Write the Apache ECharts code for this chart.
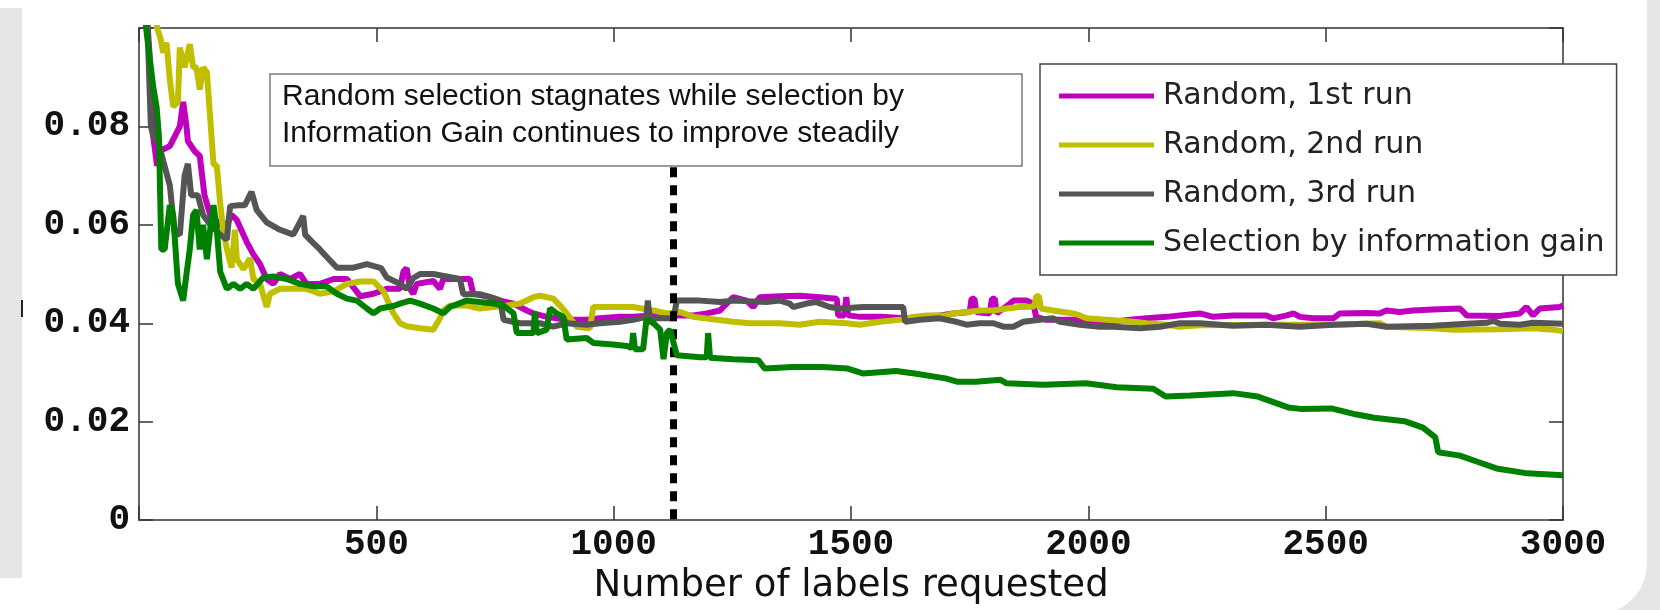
<!DOCTYPE html>
<html>
<head>
<meta charset="utf-8">
<title>Labels requested vs error</title>
<script src="https://cdn.jsdelivr.net/npm/echarts@6/dist/echarts.min.js"></script>
<style>
  html, body { margin: 0; padding: 0; background: #fff; }
  #container { width: 1660px; height: 610px; }
</style>
</head>
<body>
<div id="container"></div>
<script>
// values: [labels requested, error]
var run1 = [
    [8, 0.115], [22, 0.095], [30, 0.078], [38, 0.072], [44, 0.075], [65, 0.076], [86, 0.080], [93, 0.085],
    [100, 0.080], [103, 0.077], [117, 0.075], [128, 0.074], [138, 0.066], [150, 0.062], [171, 0.060], [185, 0.060],
    [195, 0.062], [206, 0.061], [227, 0.0565], [241, 0.054], [255, 0.052], [269, 0.049], [283, 0.048], [297, 0.050],
    [318, 0.049], [339, 0.050], [353, 0.048], [381, 0.048], [410, 0.049], [438, 0.049], [466, 0.0455], [494, 0.046],
    [522, 0.047], [550, 0.047], [557, 0.0505], [564, 0.0512], [571, 0.047], [578, 0.046], [585, 0.048], [620, 0.0486],
    [634, 0.047], [641, 0.049], [676, 0.049], [697, 0.049], [704, 0.046], [740, 0.0453], [761, 0.0446], [789, 0.044],
    [817, 0.0426], [831, 0.042], [859, 0.0413], [901, 0.0407], [943, 0.0407], [971, 0.041], [1013, 0.0413], [1041, 0.0413],
    [1084, 0.0416], [1112, 0.0413], [1140, 0.0416], [1168, 0.0416], [1196, 0.042], [1224, 0.0426], [1238, 0.044], [1252, 0.0453],
    [1280, 0.0446], [1294, 0.0433], [1308, 0.0453], [1350, 0.0455], [1392, 0.0456], [1434, 0.0453], [1470, 0.045], [1473, 0.0416],
    [1486, 0.0416], [1490, 0.0453], [1494, 0.0416], [1519, 0.0413], [1561, 0.0413], [1617, 0.041], [1645, 0.0413], [1687, 0.0416],
    [1715, 0.042], [1750, 0.0423], [1754, 0.045], [1760, 0.045], [1764, 0.0423], [1792, 0.042], [1797, 0.045], [1803, 0.045],
    [1807, 0.042], [1835, 0.044], [1842, 0.0446], [1870, 0.0446], [1884, 0.044], [1890, 0.0413], [1912, 0.0407], [1982, 0.0407],
    [2053, 0.0403], [2088, 0.0407], [2123, 0.041], [2165, 0.0413], [2193, 0.0416], [2235, 0.042], [2263, 0.0413], [2305, 0.0416],
    [2375, 0.0416], [2389, 0.041], [2418, 0.0416], [2432, 0.042], [2446, 0.0413], [2474, 0.041], [2516, 0.041], [2530, 0.042],
    [2586, 0.0421], [2614, 0.042], [2628, 0.0426], [2656, 0.0423], [2684, 0.0426], [2726, 0.0428], [2783, 0.043], [2797, 0.0416],
    [2867, 0.0415], [2909, 0.042], [2923, 0.0433], [2937, 0.0416], [2951, 0.043], [2993, 0.0433], [3000, 0.0436]
]
var run2 = [
    [25, 0.115], [38, 0.100], [45, 0.098], [51, 0.095], [58, 0.097], [65, 0.0895], [72, 0.084], [82, 0.085],
    [86, 0.096], [96, 0.092], [107, 0.0967], [114, 0.092], [121, 0.092], [128, 0.0875], [135, 0.092], [143, 0.091],
    [150, 0.0816], [157, 0.0723], [164, 0.072], [171, 0.0644], [178, 0.0585], [185, 0.0552], [195, 0.0513], [202, 0.059],
    [206, 0.053], [220, 0.051], [234, 0.0532], [241, 0.049], [255, 0.048], [269, 0.0433], [276, 0.046], [297, 0.047],
    [325, 0.047], [353, 0.047], [381, 0.046], [410, 0.0465], [438, 0.048], [466, 0.0485], [494, 0.0485], [515, 0.0465],
    [536, 0.042], [550, 0.040], [564, 0.0394], [592, 0.039], [620, 0.0387], [634, 0.041], [641, 0.0426], [655, 0.0436],
    [690, 0.0436], [718, 0.043], [747, 0.0433], [775, 0.0436], [803, 0.044], [831, 0.0453], [845, 0.0456], [873, 0.045],
    [887, 0.0436], [901, 0.042], [922, 0.0393], [950, 0.039], [957, 0.0433], [971, 0.0433], [1041, 0.0433], [1084, 0.0426],
    [1112, 0.042], [1140, 0.0423], [1168, 0.0413], [1217, 0.0407], [1252, 0.0403], [1287, 0.040], [1322, 0.040], [1350, 0.040],
    [1392, 0.0397], [1434, 0.0403], [1491, 0.040], [1519, 0.0397], [1561, 0.0403], [1603, 0.0407], [1631, 0.0413], [1659, 0.0416],
    [1701, 0.0416], [1715, 0.042], [1744, 0.0423], [1772, 0.0426], [1800, 0.0426], [1828, 0.043], [1856, 0.0433], [1886, 0.0434],
    [1890, 0.0455], [1896, 0.0455], [1900, 0.043], [1926, 0.0426], [1968, 0.042], [1982, 0.0416], [1996, 0.041], [2053, 0.0406],
    [2095, 0.0403], [2123, 0.040], [2165, 0.0397], [2193, 0.0393], [2235, 0.0396], [2375, 0.0397], [2516, 0.0397], [2614, 0.040],
    [2628, 0.0393], [2726, 0.039], [2769, 0.0387], [2867, 0.0388], [2937, 0.039], [2979, 0.0387], [3000, 0.0384]
]
var run3 = [
    [8, 0.115], [18, 0.100], [25, 0.080], [30, 0.078], [40, 0.077], [51, 0.073], [65, 0.068], [75, 0.0585],
    [86, 0.058], [96, 0.070], [103, 0.0724], [110, 0.066], [124, 0.066], [135, 0.062], [150, 0.060], [171, 0.058],
    [185, 0.057], [192, 0.0638], [210, 0.064], [223, 0.064], [237, 0.0667], [248, 0.063], [269, 0.0605], [297, 0.059],
    [325, 0.058], [346, 0.0618], [350, 0.058], [360, 0.057], [381, 0.055], [400, 0.053], [417, 0.0513], [452, 0.0513],
    [480, 0.052], [510, 0.0512], [522, 0.0493], [550, 0.048], [564, 0.047], [578, 0.0492], [592, 0.050], [620, 0.050],
    [648, 0.0495], [676, 0.049], [683, 0.0459], [718, 0.0459], [740, 0.0453], [761, 0.0446], [768, 0.0407], [803, 0.040],
    [845, 0.040], [873, 0.0393], [901, 0.040], [943, 0.0397], [971, 0.040], [1013, 0.0403], [1041, 0.0407], [1069, 0.0413],
    [1072, 0.0446], [1076, 0.041], [1126, 0.041], [1133, 0.0446], [1182, 0.0446], [1224, 0.0443], [1252, 0.0446], [1322, 0.0443],
    [1350, 0.0446], [1371, 0.044], [1378, 0.0433], [1406, 0.044], [1427, 0.0443], [1455, 0.0433], [1477, 0.043], [1526, 0.0433],
    [1610, 0.0433], [1614, 0.0403], [1645, 0.0407], [1687, 0.041], [1722, 0.0403], [1743, 0.0397], [1771, 0.040], [1800, 0.040],
    [1821, 0.0393], [1842, 0.0393], [1863, 0.0403], [1898, 0.0407], [1926, 0.041], [1940, 0.0403], [1982, 0.0397], [2024, 0.0393],
    [2053, 0.0393], [2109, 0.039], [2151, 0.0393], [2193, 0.040], [2235, 0.040], [2305, 0.0395], [2375, 0.0397], [2446, 0.0393],
    [2516, 0.0397], [2586, 0.0399], [2628, 0.0393], [2726, 0.0395], [2797, 0.0399], [2839, 0.0401], [2853, 0.0405], [2867, 0.0399],
    [2909, 0.0397], [2937, 0.0401], [3000, 0.0399]
]
var infoGain = [
    [5, 0.115], [15, 0.100], [30, 0.088], [37, 0.084], [42, 0.078], [47, 0.055], [54, 0.055], [65, 0.064],
    [72, 0.062], [82, 0.048], [93, 0.0446], [100, 0.050], [107, 0.055], [114, 0.062], [121, 0.063], [128, 0.055],
    [135, 0.060], [143, 0.053], [150, 0.059], [157, 0.064], [164, 0.059], [171, 0.0505], [185, 0.047], [199, 0.048],
    [213, 0.047], [227, 0.048], [241, 0.047], [262, 0.0493], [283, 0.0495], [311, 0.049], [339, 0.048], [367, 0.0475],
    [395, 0.0475], [417, 0.046], [438, 0.045], [459, 0.0446], [480, 0.043], [494, 0.042], [508, 0.043], [536, 0.0435],
    [550, 0.044], [571, 0.0446], [592, 0.044], [620, 0.043], [641, 0.042], [655, 0.0433], [690, 0.0446], [718, 0.0443],
    [747, 0.044], [768, 0.0436], [789, 0.042], [796, 0.038], [831, 0.038], [834, 0.0423], [838, 0.038], [859, 0.0387],
    [866, 0.043], [880, 0.042], [894, 0.0413], [901, 0.0367], [943, 0.037], [957, 0.036], [999, 0.0357], [1027, 0.0354],
    [1038, 0.035], [1041, 0.038], [1045, 0.0347], [1062, 0.0347], [1069, 0.0407], [1084, 0.040], [1098, 0.0387], [1105, 0.0327],
    [1112, 0.038], [1119, 0.0387], [1133, 0.0335], [1182, 0.0331], [1196, 0.0331], [1199, 0.038], [1203, 0.033], [1252, 0.0327],
    [1305, 0.0325], [1318, 0.0308], [1376, 0.0311], [1441, 0.0311], [1493, 0.0308], [1525, 0.0298], [1595, 0.0303], [1634, 0.0298],
    [1699, 0.0288], [1725, 0.0281], [1763, 0.0281], [1815, 0.0285], [1828, 0.0278], [1905, 0.0275], [1995, 0.0278], [2060, 0.027],
    [2137, 0.0267], [2163, 0.0251], [2215, 0.0253], [2305, 0.0258], [2357, 0.0251], [2421, 0.0229], [2447, 0.0226], [2512, 0.0227],
    [2563, 0.0215], [2602, 0.0208], [2666, 0.0201], [2705, 0.0188], [2731, 0.0168], [2737, 0.0138], [2783, 0.0131], [2821, 0.0118],
    [2860, 0.0105], [2925, 0.0095], [3000, 0.0091]
]

var seriesNames = ['Random, 1st run', 'Random, 2nd run', 'Random, 3rd run', 'Selection by information gain']
var seriesColors = ['#bf00bf', '#bfbf00', '#555555', '#008000']
var seriesData = [run1, run2, run3, infoGain]

// dashed divider and its note
var dividerX = 1125
var dividerTop = 0.0717
var noteText = 'Random selection stagnates while selection by\nInformation Gain continues to improve steadily'

var tickFont = {
    color: '#111',
    fontFamily: '"Liberation Mono", monospace',
    fontWeight: 'bold',
    fontSize: 36
}
var axisLineStyle = { color: '#333', width: 1.5 }

// a plain boxed axis, ticks pointing into the plot
function boxAxis(pos, max, interval, label) {
    return {
        type: 'value',
        position: pos,
        min: 0,
        max: max,
        interval: interval,
        axisLine: { show: true, onZero: false, lineStyle: axisLineStyle },
        axisTick: { show: true, inside: true, length: 14, lineStyle: axisLineStyle },
        axisLabel: label || { show: false },
        splitLine: { show: false }
    }
}

var series = []
for (var i = 0; i < seriesData.length; i++) {
    var s = {
        name: seriesNames[i],
        type: 'line',
        data: seriesData[i],
        showSymbol: false,
        smooth: false,
        clip: true,
        lineStyle: { width: 6, color: seriesColors[i] },
        itemStyle: { color: seriesColors[i] },
        z: 2 + i
    }
    if (i == seriesData.length - 1) {
        s.markLine = {
            silent: true,
            symbol: ['none', 'none'],
            label: { show: false },
            lineStyle: { color: '#000', width: 7, type: [10, 8] },
            data: [[{ coord: [dividerX, dividerTop] }, { coord: [dividerX, 0] }]]
        }
    }
    series.push(s)
}

var xBottom = boxAxis('bottom', 3000, 500, Object.assign({
    margin: 7,
    formatter: function (v) { return v === 0 ? '' : String(v) }
}, tickFont))
xBottom.name = 'Number of labels requested'
xBottom.nameLocation = 'middle'
xBottom.nameGap = 42
xBottom.nameTextStyle = {
    fontFamily: '"DejaVu Sans", sans-serif',
    fontSize: 37,
    lineHeight: 37,
    color: '#111'
}

var yLeft = boxAxis('left', 0.1, 0.02, Object.assign({
    margin: 9,
    formatter: function (v) {
        if (v === 0) return '0'
        if (v > 0.09) return ''
        return v.toFixed(2)
    }
}, tickFont))

var myChart = echarts.init(document.getElementById('container'))
myChart.setOption({
    animation: false,
    backgroundColor: '#fff',
    grid: { left: 139, right: 97, top: 28, bottom: 78, show: false },
    graphic: [
        { type: 'rect', z: -20, shape: { x: 0, y: 8, width: 22, height: 570 }, style: { fill: '#e5e5e5' } },
        { type: 'rect', z: -20, shape: { x: 21, y: 300, width: 2, height: 17 }, style: { fill: '#222' } },
        { type: 'rect', z: -20, shape: { x: 1590, y: 0, width: 70, height: 610 }, style: { fill: '#e5e5e5' } },
        { type: 'rect', z: -19, shape: { x: 1580, y: -60, width: 67, height: 675, r: [0, 0, 52, 0] }, style: { fill: '#fff' } },
        {
            type: 'rect', z: 50,
            shape: { x: 270, y: 74, width: 752, height: 92 },
            style: { fill: '#fff', stroke: '#7a7a7a', lineWidth: 1.5 }
        },
        {
            type: 'text', z: 51, x: 282, y: 115,
            style: {
                text: noteText,
                fill: '#111',
                fontFamily: '"Liberation Sans", Arial, sans-serif',
                fontSize: 30,
                lineHeight: 36.5,
                verticalAlign: 'middle'
            }
        }
    ],
    legend: {
        orient: 'vertical',
        left: 1040,
        top: 64,
        padding: [17, 12, 17, 19],
        itemWidth: 95,
        itemHeight: 5,
        itemGap: 19,
        icon: 'rect',
        backgroundColor: '#fff',
        borderColor: '#444',
        borderWidth: 1.5,
        z: 60,
        textStyle: {
            fontFamily: '"DejaVu Sans", sans-serif',
            fontSize: 30,
            lineHeight: 30,
            color: '#222',
            padding: [0, 0, 0, 4]
        },
        data: seriesNames
    },
    xAxis: [xBottom, boxAxis('top', 3000, 500)],
    yAxis: [yLeft, boxAxis('right', 0.1, 0.02)],
    series: series
})
</script>
</body>
</html>
